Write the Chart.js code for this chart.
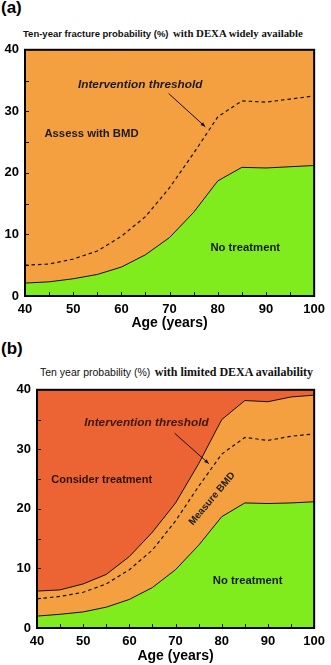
<!DOCTYPE html>
<html>
<head>
<meta charset="utf-8">
<script src="https://cdn.jsdelivr.net/npm/chart.js@4.4.1/dist/chart.umd.min.js"></script>
<style>
  body { margin: 0; width: 331px; height: 665px; background: #fff; position: relative; overflow: hidden;
         font-family: "Liberation Sans", Arial, sans-serif; }
  .panel { position: absolute; font-weight: bold; font-size: 17px; left: 1px; }
  .ttl { position: absolute; white-space: nowrap; font-weight: bold; color: #111; }
  .ttl .s { font-family: "Liberation Sans", Arial, sans-serif; font-size: 9.5px; }
  .ttl .r { font-family: "Liberation Serif", "Times New Roman", serif; font-size: 10.8px; }
  .box { position: absolute; left: 0; width: 331px; }
</style>
</head>
<body>
<div class="panel" style="top:-2px">(a)</div>
<div class="ttl" style="left:23px;top:23px"><span class="s">Ten-year fracture probability (%)</span> <span class="r">with DEXA widely available</span></div>
<div class="box" style="top:36px;height:302px"><canvas id="chartA"></canvas></div>

<div class="panel" style="top:339px">(b)</div>
<div class="ttl" style="left:40px;top:362px"><span class="s" style="font-weight:normal;font-size:10.5px">Ten year probability (%)</span> <span class="r" style="font-size:12px">with limited DEXA availability</span></div>
<div class="box" style="top:376px;height:289px"><canvas id="chartB"></canvas></div>

<script>
// ages along the x axis
const ages = [40, 45, 50, 55, 60, 65, 70, 75, 80, 85, 90, 95, 100];

// panel (a)
const noTreatA   = [2.1, 2.3, 2.8, 3.5, 4.7, 6.7, 9.5, 13.6, 18.7, 20.9, 20.8, 21.0, 21.2];
const thresholdA = [5.0, 5.2, 6.0, 7.3, 9.7, 12.9, 17.6, 23.2, 29.1, 31.7, 31.5, 32.0, 32.5];

// panel (b)
const noTreatB   = [2.0, 2.3, 2.7, 3.5, 4.8, 6.8, 9.8, 13.9, 18.7, 21.0, 20.9, 21.0, 21.2];
const thresholdB = [4.9, 5.3, 6.0, 7.4, 9.8, 13.1, 18.0, 23.8, 29.2, 32.0, 31.5, 32.2, 32.6];
const considerB  = [6.2, 6.4, 7.4, 9.0, 12.0, 16.1, 21.0, 27.6, 35.0, 38.2, 38.0, 38.8, 39.1];

const xTicks = [40, 50, 60, 70, 80, 90, 100];
const yTicks = [0, 10, 20, 30, 40];

const ORANGE = '#F5A040';
const GREEN = '#80EC1E';
const RED = '#EC6334';

function pts(arr) {
    return ages.map((a, i) => ({ x: a, y: arr[i] }));
}

// orange background + frame + inner tick marks + labels
const decorPlugin = {
    id: 'decor',
    beforeDatasetsDraw(chart) {
        const { ctx, chartArea: a } = chart;
        ctx.save();
        ctx.fillStyle = ORANGE;
        ctx.fillRect(a.left, a.top, a.right - a.left, a.bottom - a.top);
        ctx.restore();
    },
    afterDatasetsDraw(chart, args, opts) {
        const { ctx, chartArea: a, scales } = chart;
        const xs = scales.x, ys = scales.y;
        ctx.save();
        // tick marks inside
        ctx.strokeStyle = '#111';
        ctx.lineWidth = 1;
        for (let v = xs.min + 5; v < xs.max; v += 5) {
            const px = Math.round(xs.getPixelForValue(v)) + 0.5;
            ctx.beginPath(); ctx.moveTo(px, a.bottom); ctx.lineTo(px, a.bottom - 4); ctx.stroke();
        }
        for (let v = ys.min + 5; v < ys.max; v += 5) {
            const py = Math.round(ys.getPixelForValue(v)) + 0.5;
            ctx.beginPath(); ctx.moveTo(a.left, py); ctx.lineTo(a.left + 4, py); ctx.stroke();
        }
        // frame
        ctx.lineWidth = 2;
        ctx.strokeStyle = '#000';
        ctx.strokeRect(a.left, a.top, a.right - a.left, a.bottom - a.top);

        // text labels
        ctx.textAlign = 'center';
        ctx.textBaseline = 'middle';
        (opts.labels || []).forEach(l => {
            const px = xs.getPixelForValue(l.x), py = ys.getPixelForValue(l.y);
            ctx.save();
            ctx.translate(px, py);
            if (l.rot) ctx.rotate(l.rot * Math.PI / 180);
            ctx.font = l.font;
            ctx.fillStyle = l.color || '#1a1a1a';
            ctx.fillText(l.text, 0, 0);
            ctx.restore();
        });
        // arrow
        if (opts.arrow) {
            const r = opts.arrow;
            const x1 = xs.getPixelForValue(r[0]), y1 = ys.getPixelForValue(r[1]);
            const x2 = xs.getPixelForValue(r[2]), y2 = ys.getPixelForValue(r[3]);
            ctx.strokeStyle = '#111';
            ctx.lineWidth = 1;
            ctx.beginPath(); ctx.moveTo(x1, y1); ctx.lineTo(x2, y2); ctx.stroke();
            const ang = Math.atan2(y2 - y1, x2 - x1);
            ctx.fillStyle = '#111';
            ctx.beginPath();
            ctx.moveTo(x2, y2);
            ctx.lineTo(x2 - 5 * Math.cos(ang - 0.4), y2 - 5 * Math.sin(ang - 0.4));
            ctx.lineTo(x2 - 5 * Math.cos(ang + 0.4), y2 - 5 * Math.sin(ang + 0.4));
            ctx.closePath();
            ctx.fill();
        }
        ctx.restore();
    }
};

function makeScales(yWidth, xHeight, titlePad) {
    return {
        x: {
            type: 'linear', min: 40, max: 100,
            afterBuildTicks: s => { s.ticks = xTicks.map(v => ({ value: v })); },
            afterFit: s => { s.height = xHeight; },
            grid: { display: false, drawTicks: false },
            border: { display: false },
            ticks: { color: '#000', padding: 6, maxRotation: 0, font: { family: 'Liberation Sans', size: 13, weight: 'bold' } },
            title: { display: true, text: 'Age (years)', color: '#000', padding: { top: 0, bottom: titlePad },
                     font: { family: 'Liberation Sans', size: 14, weight: 'bold' } }
        },
        y: {
            min: 0, max: 40,
            afterBuildTicks: s => { s.ticks = yTicks.map(v => ({ value: v })); },
            afterFit: s => { s.width = yWidth; },
            grid: { display: false, drawTicks: false },
            border: { display: false },
            ticks: { color: '#000', padding: 6, font: { family: 'Liberation Sans', size: 13, weight: 'bold' } }
        }
    };
}

const lineBase = { pointRadius: 0, tension: 0, borderColor: '#111' };
const labFont = 'bold 11.3px "Liberation Sans"';
const itFont = 'italic bold 11.8px "Liberation Sans"';

new Chart(document.getElementById('chartA'), {
    type: 'line',
    data: {
        datasets: [
            { ...lineBase, label: 'Intervention threshold', data: pts(thresholdA), borderWidth: 1.2, borderDash: [3.5, 3], fill: false },
            { ...lineBase, label: 'No treatment', data: pts(noTreatA), borderWidth: 1, fill: 'origin', backgroundColor: GREEN }
        ]
    },
    options: {
        responsive: true, maintainAspectRatio: false, animation: false,
        layout: { padding: { top: 8, right: 14, left: 0, bottom: 0 } },
        plugins: {
            legend: { display: false }, tooltip: { enabled: false },
            decor: {
                labels: [
                    { text: 'Intervention threshold', x: 63.9, y: 34.4, font: itFont },
                    { text: 'Assess with BMD', x: 53.8, y: 26.3, font: labFont },
                    { text: 'No treatment', x: 85.7, y: 7.8, font: labFont }
                ],
                arrow: [69.8, 32.9, 77.4, 27.5]
            }
        },
        scales: makeScales(25, 42, 6)
    },
    plugins: [decorPlugin]
});

new Chart(document.getElementById('chartB'), {
    type: 'line',
    data: {
        datasets: [
            { ...lineBase, label: 'Consider treatment', data: pts(considerB), borderWidth: 1, fill: 'end', backgroundColor: RED },
            { ...lineBase, label: 'Intervention threshold', data: pts(thresholdB), borderWidth: 1.2, borderDash: [3.5, 3], fill: false },
            { ...lineBase, label: 'No treatment', data: pts(noTreatB), borderWidth: 1, fill: 'origin', backgroundColor: GREEN }
        ]
    },
    options: {
        responsive: true, maintainAspectRatio: false, animation: false,
        layout: { padding: { top: 8, right: 12, left: 0, bottom: 0 } },
        plugins: {
            legend: { display: false }, tooltip: { enabled: false },
            decor: {
                labels: [
                    { text: 'Intervention threshold', x: 63.7, y: 34.5, font: itFont, color: '#3a1a0a' },
                    { text: 'Consider treatment', x: 54.0, y: 24.8, font: 'bold 11px "Liberation Sans"', color: '#2a140a' },
                    { text: 'No treatment', x: 85.6, y: 7.9, font: labFont },
                    { text: 'Measure BMD', x: 77.9, y: 21.7, font: 'bold 10px "Liberation Sans"', rot: -50 }
                ],
                arrow: [69.8, 32.7, 77.2, 27.6]
            }
        },
        scales: makeScales(37, 37, 0)
    },
    plugins: [decorPlugin]
});
</script>
</body>
</html>
